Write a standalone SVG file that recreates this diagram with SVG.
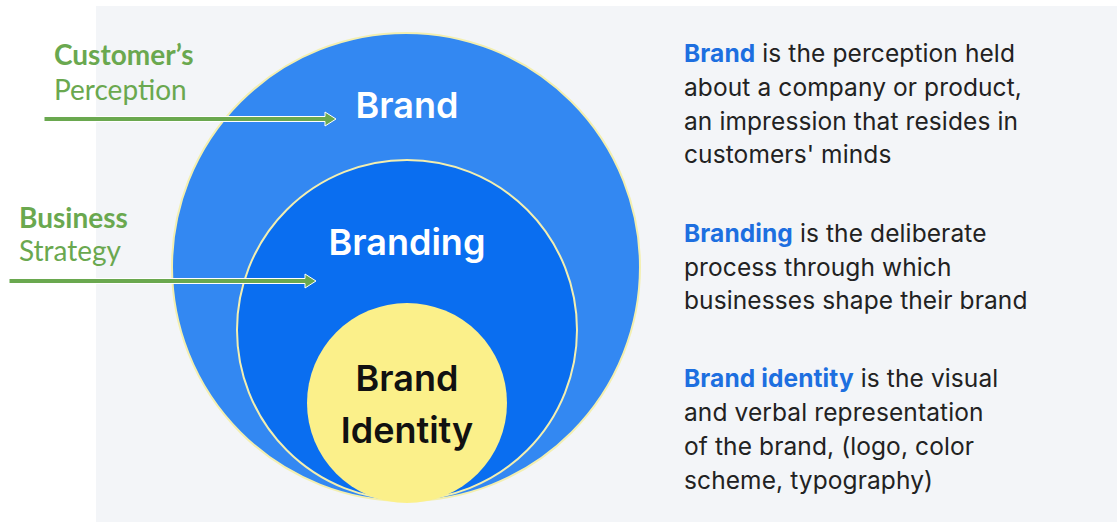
<svg xmlns="http://www.w3.org/2000/svg" width="1117" height="522" viewBox="0 0 1117 522">
<style>
.lbl{font-family:Lato,"Noto Sans",sans-serif;fill:#6aa84f;font-size:28px}
.b{font-weight:700}
.circ{font-family:Inter,"Noto Sans",sans-serif;font-weight:600;font-size:36px;text-anchor:middle}
.desc{font-family:Inter,"Noto Sans",sans-serif;font-size:24.5px;fill:#222;letter-spacing:0.1px}
.hl{fill:#1d6fe0;font-weight:700}
.arrow{fill:#6aa84f;stroke:#fff;stroke-width:1}
</style>
<rect width="1117" height="522" fill="#fff"/>
<rect x="96" y="6" width="1021" height="516" fill="#f3f5f8"/>
<g id="brand">
<circle cx="406" cy="267" r="234" fill="#3388f2" stroke="#f3efb0" stroke-width="2"/>
<text class="circ" x="407" y="118" fill="#fff">Brand</text>
</g>
<g id="branding">
<circle cx="407" cy="330" r="170" fill="#0a6ef0" stroke="#f3efb0" stroke-width="2"/>
<text class="circ" x="407" y="255" fill="#fff">Branding</text>
</g>
<g id="brand-identity">
<circle cx="407" cy="403" r="100" fill="#fbf08a"/>
<text class="circ" x="407" y="391" fill="#111">Brand</text>
<text class="circ" x="407" y="443" fill="#111">Identity</text>
</g>
<g id="customers-perception">
<text class="lbl b" x="54" y="65">Customer’s</text>
<text class="lbl" x="54" y="100">Perception</text>
</g>
<g id="business-strategy">
<text class="lbl b" x="19" y="228">Business</text>
<text class="lbl" x="19" y="261">Strategy</text>
</g>
<g id="connectors">
<path class="arrow" d="M44,116.5 H325 V112 L336,119 L325,126 V121.5 H44 Z"/>
<path class="arrow" d="M9,278.5 H305 V274 L316,281 L305,288 V283.5 H9 Z"/>
</g>
<g id="desc-brand" class="desc">
<text x="684" y="62"><tspan class="hl">Brand</tspan> is the perception held</text>
<text x="684" y="96">about a company or product,</text>
<text x="684" y="130">an impression that resides in</text>
<text x="684" y="163">customers' minds</text>
</g>
<g id="desc-branding" class="desc">
<text x="684" y="242"><tspan class="hl">Branding</tspan> is the deliberate</text>
<text x="684" y="276">process through which</text>
<text x="684" y="309">businesses shape their brand</text>
</g>
<g id="desc-identity" class="desc">
<text x="684" y="387"><tspan class="hl">Brand identity</tspan> is the visual</text>
<text x="684" y="421">and verbal representation</text>
<text x="684" y="455">of the brand, (logo, color</text>
<text x="684" y="489">scheme, typography)</text>
</g>
</svg>
